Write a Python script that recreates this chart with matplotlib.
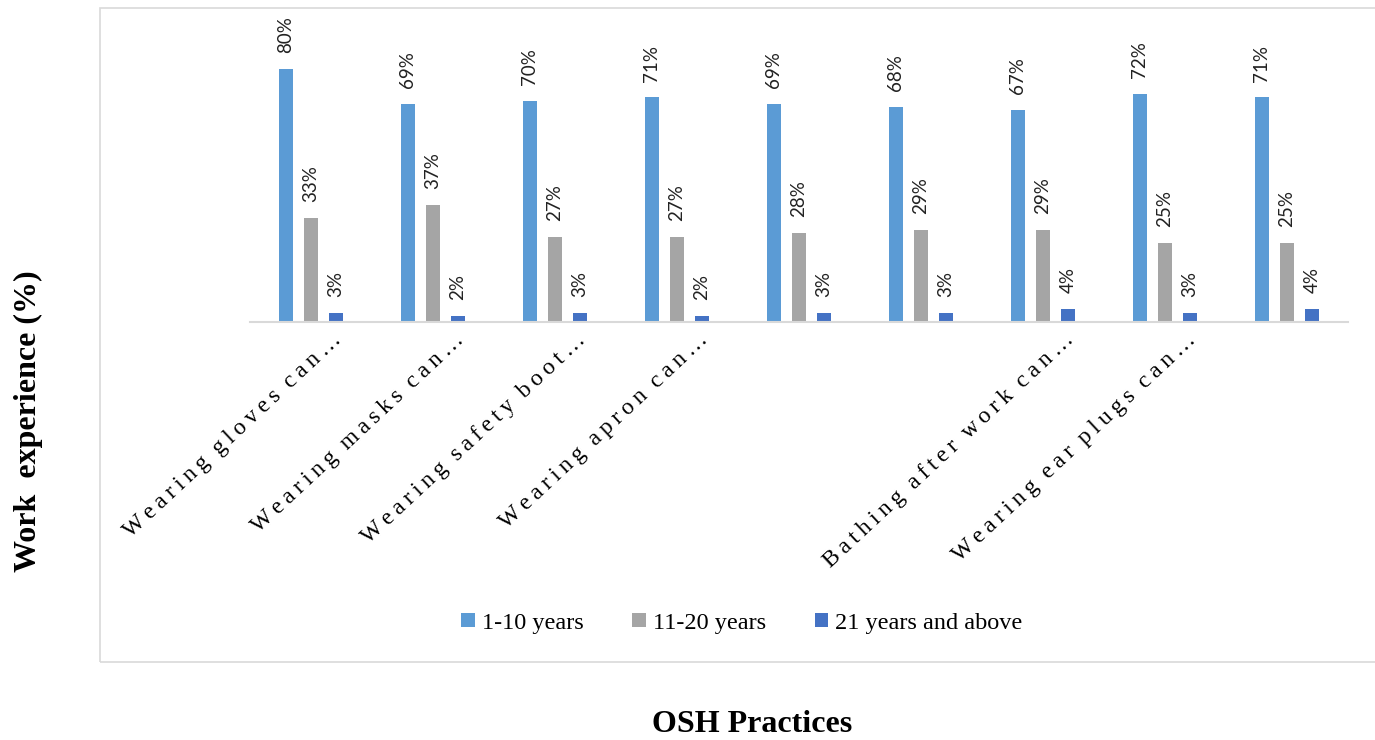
import numpy as np
import matplotlib.pyplot as plt
from matplotlib.patches import Rectangle
import matplotlib.transforms as mtransforms

practices = [
    "Wearing gloves can…",
    "Wearing masks can…",
    "Wearing safety boot…",
    "Wearing apron can…",
    "",
    "",
    "Bathing after work can…",
    "Wearing ear plugs can…",
    "",
]
series_names = ["1-10 years", "11-20 years", "21 years and above"]
years_1_10 = [80, 69, 70, 71, 69, 68, 67, 72, 71]
years_11_20 = [33, 37, 27, 27, 28, 29, 29, 25, 25]
years_21_up = [3, 2, 3, 2, 3, 3, 4, 3, 4]
colors = ["#5B9BD5", "#A5A5A5", "#4472C4"]


def spaced(s):
    # wide letter spacing for the category labels
    return "\u2009".join(s).replace("\u2009 \u2009", "  ")


fig = plt.figure(figsize=(13.75, 7.4), dpi=100)
fig.patches.append(Rectangle((100 / 1375, 78 / 740), 1.0, 654 / 740,
                             transform=fig.transFigure, fill=False,
                             edgecolor="#D9D9D9", linewidth=1.2))

ax = fig.add_axes([250 / 1375, 418 / 740, 1098 / 1375, 284.6 / 740])

x = np.arange(len(practices))
width = 0.107
step = 0.205
all_series = [years_1_10, years_11_20, years_21_up]
for k, (vals, name, col) in enumerate(zip(all_series, series_names, colors)):
    pos = x + (k - 1) * step
    bars = ax.bar(pos, vals, width, color=col, label=name)
    for b, v in zip(bars, vals):
        ax.annotate(f"{v}%", (b.get_x() + b.get_width() / 2, b.get_height()),
                    xytext=(0, 11.5), textcoords="offset points",
                    rotation=90, ha="center", va="bottom",
                    fontsize=13.5, family="Lato", color="#222222",
                    annotation_clip=False)

ax.set_xlim(-0.5, len(practices) - 0.5)
ax.set_ylim(0, 90)
ax.set_yticks([])
for side in ["left", "right", "top"]:
    ax.spines[side].set_visible(False)
ax.spines["bottom"].set_color("#D9D9D9")
ax.spines["bottom"].set_linewidth(1.5)
ax.tick_params(axis="x", length=0)
ax.set_xticks(x)
ax.set_xticklabels([spaced(p) for p in practices], rotation=43,
                   ha="right", va="center", rotation_mode="anchor",
                   fontsize=17, family=["Liberation Serif", "DejaVu Serif"])
shift = mtransforms.ScaledTranslation(28 / 100, -10 / 100, fig.dpi_scale_trans)
for lab in ax.get_xticklabels():
    lab.set_transform(lab.get_transform() + shift)

fig.text(28 / 1375, 1 - 421 / 740, "Work  experience (%)", rotation=90,
         ha="center", va="center", fontsize=23, fontweight="bold",
         family="Liberation Serif")
fig.text(752 / 1375, 1 - 724 / 740, "OSH Practices", ha="center",
         va="center", fontsize=23, fontweight="bold",
         family="Liberation Serif")

fig.legend(loc="center", bbox_to_anchor=(742 / 1375, 1 - 623 / 740),
           ncol=3, frameon=False, handlelength=0.55, handleheight=0.55,
           handletextpad=0.3, columnspacing=2.0,
           prop={"family": "Liberation Serif", "size": 17.5})

fig.savefig("out.png", dpi=100)
